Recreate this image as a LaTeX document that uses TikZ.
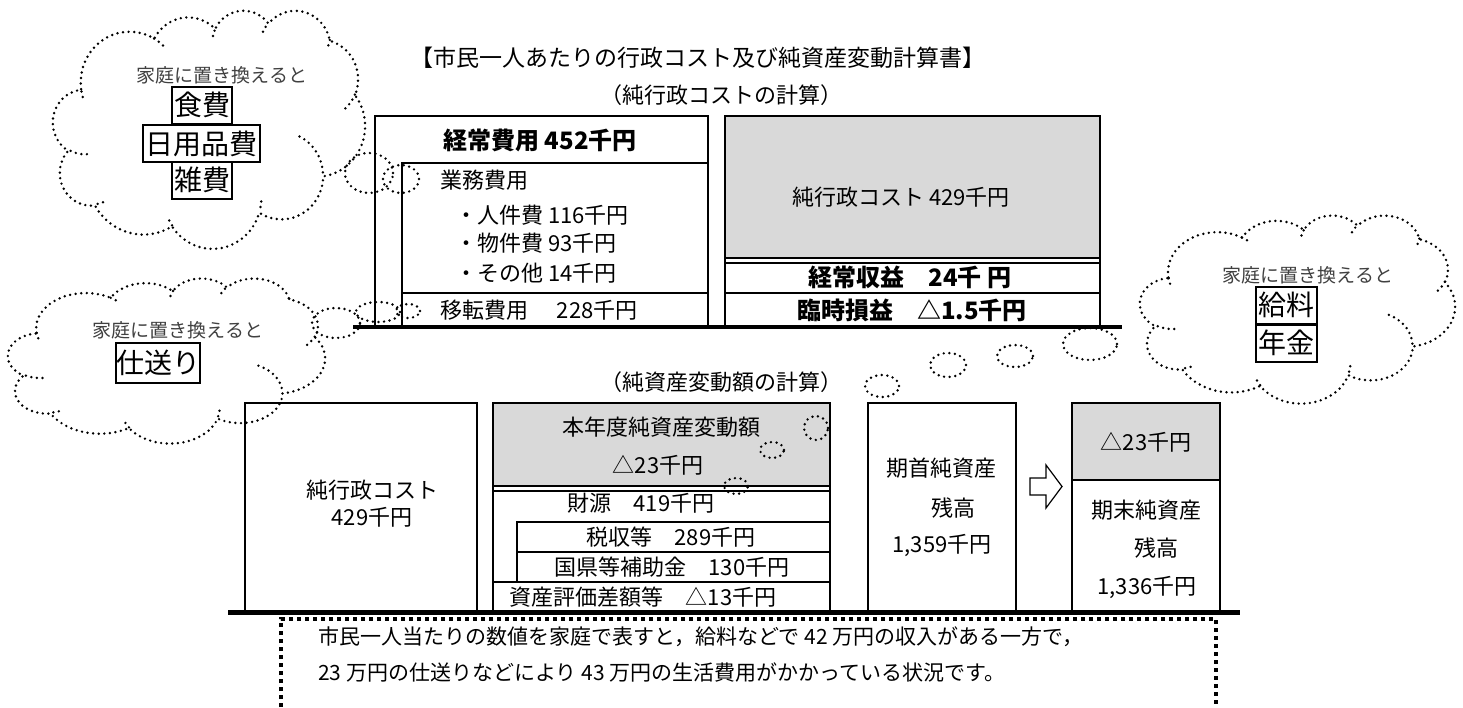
\documentclass[tikz,border=0pt]{standalone}
\usepackage{fontspec}
\setmainfont{Noto Sans CJK JP}
\definecolor{boxgrey}{RGB}{217,217,217}
\tikzset{
  warc/.style n args={4}{x radius=#1, y radius=#2,
    start angle={atan2((#1)*sin(#3),(#2)*cos(#3))},
    delta angle={mod(atan2((#1)*sin((#3)+(#4)),(#2)*cos((#3)+(#4)))-atan2((#1)*sin(#3),(#2)*cos(#3))+720,360)}},
  dotline/.style={draw, line width=2.7pt, line cap=round, dash pattern=on 0pt off 5.6pt}
}
% Word-style cloud outline: #1,#2 = top-left corner, #3,#4 = width, height (px)
\newcommand\wordcloud[5]{%
  \pgfmathsetmacro\cwx{#3/432}\pgfmathsetmacro\cwy{-#4/432}%
  \begin{scope}[shift={(#1,#2)}, x=\cwx pt, y=\cwy pt]
    \draw[dotline, fill=white] (39,143.7)
      arc[warc={67.53}{91.90}{-190.4875}{123.7805}]
      arc[warc={53.33}{72.67}{-144.1024}{89.9452}]
      arc[warc={43.65}{59.45}{-145.8079}{99.7230}]
      arc[warc={48.57}{65.95}{-130.9861}{117.2417}]
      arc[warc={53.33}{72.73}{-78.7089}{109.0269}]
      arc[warc={67.75}{92.20}{-46.2673}{130.2690}]
      arc[warc={57.85}{78.67}{0.6250}{114.0333}]
      arc[warc={67.52}{92.15}{22.4516}{115.1726}]
      arc[warc={77.20}{105.43}{66.2426}{75.7110}]
      arc[warc={43.60}{59.18}{-274.9421}{146.7356}]
      arc[warc={43.45}{59.45}{-246.8285}{152.5189}] -- cycle;
    \draw[dotline] (46.93,261.77) arc[warc={43.45}{59.45}{86.7420}{26.4295}];
    \draw[dotline] (69.28,348.99) arc[warc={43.60}{59.18}{73.6105}{11.4475}];
    \draw[dotline] (164.78,390.90) arc[warc={67.52}{92.15}{137.6242}{14.0811}];
    \draw[dotline] (288.27,347.51) arc[warc={67.52}{92.15}{6.4533}{15.9984}];
    \draw[dotline] (341.29,229.54) arc[warc={57.85}{78.67}{-70.2924}{70.9174}];
    \draw[dotline] (417.98,153.54) arc[warc={53.33}{72.73}{30.3180}{27.7515}];
    \draw[dotline] (383.24,54.26) arc[warc={48.57}{65.95}{13.7443}{14.8589}];
    \draw[dotline] (290.78,39.52) arc[warc={48.57}{65.95}{-149.1815}{18.1954}];
    \draw[dotline] (221.41,47.20) arc[warc={43.65}{59.45}{-163.4943}{17.6864}];
    \draw[dotline] (140.00,51.92) arc[warc={67.53}{91.90}{-66.7070}{12.3194}];
    \draw[dotline] (41.27,157.89) arc[warc={67.53}{91.90}{157.6544}{11.8582}];
    \coordinate (#5) at (216,216);
  \end{scope}}
\begin{document}
\begin{tikzpicture}[x=1pt,y=-1pt,
  box/.style={line width=2.8pt},
  thinline/.style={line width=1.2pt},
  t/.style={inner sep=0pt, font=\fontsize{22}{26}\selectfont},
  tb/.style={inner sep=0pt, font=\fontsize{24}{28}\selectfont\bfseries},
  cl/.style={inner sep=0pt, font=\fontsize{19}{22}\selectfont, text=black!75},
  kw/.style={draw, line width=2pt, inner sep=0pt, minimum height=37pt, font=\fontsize{28}{32}\selectfont},
  note/.style={inner sep=0pt, font=\fontsize{21}{25}\selectfont}]
\useasboundingbox (0,0) rectangle (1463,707);
\fill[white] (0,0) rectangle (1463,707);

% ---------- clouds ----------
\wordcloud{53}{10}{312}{238}{cloudA}
\wordcloud{1140}{215}{315}{188}{cloudB}
\wordcloud{8}{278}{317}{165}{cloudC}

% bubbles
\draw[dotline] (369,173) ellipse [x radius=24pt, y radius=20pt];
\draw[dotline] (401,179) ellipse [x radius=18pt, y radius=14pt];
\draw[dotline] (336,323) ellipse [x radius=24pt, y radius=15pt];
\draw[dotline] (378,312) ellipse [x radius=22pt, y radius=10pt];
\draw[dotline] (408,311) ellipse [x radius=12pt, y radius=7pt];
\draw[dotline] (882,386) ellipse [x radius=17pt, y radius=11pt];
\draw[dotline] (948,365) ellipse [x radius=18pt, y radius=12pt];
\draw[dotline] (1015,356) ellipse [x radius=18pt, y radius=11pt];
\draw[dotline] (1090,344) ellipse [x radius=27pt, y radius=16pt];

% cloud texts
\node[cl] (ctA) at (222,75) {家庭に置き換えると};
\node[kw, minimum width=60pt] (kwA1) at (202,105) {食費};
\node[kw, minimum width=117pt] (kwA2) at (201,143.5) {日用品費};
\node[kw, minimum width=60pt] (kwA3) at (202,180) {雑費};
\node[cl] (ctB) at (1308,275) {家庭に置き換えると};
\node[kw, minimum width=61pt] (kwB1) at (1286,305) {給料};
\node[kw, minimum width=61pt] (kwB2) at (1286,343) {年金};
\node[cl] (ctC) at (178,330) {家庭に置き換えると};
\node[kw, minimum width=83pt, minimum height=40pt] (kwC1) at (158,363) {仕送り};

% ---------- titles ----------
\node[t, anchor=west, font=\fontsize{23}{27}\selectfont] (title) at (410,58) {【市民一人あたりの行政コスト及び純資産変動計算書】};
\node[t, anchor=west] (sub1) at (600,95) {（純行政コストの計算）};

% ---------- top boxes ----------
\fill[boxgrey] (725,116) rectangle (1100,258);
\draw[box] (375,327) -- (375,116) -- (708,116) -- (708,327);
\draw[box] (402,327) -- (402,163) -- (708,163);
\draw[box] (402,293) -- (708,293);
\draw[box] (725,327) -- (725,116) -- (1100,116) -- (1100,327);
\draw[box] (725,258) -- (1100,258);
\draw[thinline] (725,263) -- (1100,263);
\draw[box] (725,293) -- (1100,293);
\draw[line width=4pt] (353,327) -- (1122,327);

\node[tb] (keijo) at (540,140) {経常費用 452千円};
\node[t, anchor=west] (gyomu) at (440,180) {業務費用};
\node[t, anchor=west] (jinken) at (455,215) {・人件費 116千円};
\node[t, anchor=west] (bukken) at (455,243) {・物件費 93千円};
\node[t, anchor=west] (sonota) at (455,273) {・その他 14千円};
\node[t, anchor=west] (iten) at (440,310) {移転費用\hspace{1.3em}228千円};
\node[t] (jungyo) at (901,197) {純行政コスト 429千円};
\node[tb] (shueki) at (910,277) {経常収益　24千 円};
\node[tb] (rinji) at (912,310) {臨時損益　△1.5千円};

% ---------- bottom boxes ----------
\node[t, anchor=west] (sub2) at (600,382) {（純資産変動額の計算）};
\fill[boxgrey] (493,403) rectangle (830,486);
\fill[boxgrey] (1072,403) rectangle (1220,480);
\draw[box] (245,612) -- (245,403) -- (477,403) -- (477,612);
\draw[box] (493,612) -- (493,403) -- (830,403) -- (830,612);
\draw[box] (493,486) -- (830,486);
\draw[thinline] (493,491) -- (830,491);
\draw[box] (517,582) -- (517,522) -- (830,522);
\draw[box] (517,552) -- (830,552);
\draw[box] (493,582) -- (830,582);
\draw[box] (868,612) -- (868,403) -- (1016,403) -- (1016,612);
\draw[box] (1072,612) -- (1072,403) -- (1220,403) -- (1220,612);
\draw[box] (1072,480) -- (1220,480);
\draw[line width=5pt] (228,612) -- (1240,612);
\draw[line width=1.2pt, fill=white] (1030,478) -- (1046,478) -- (1046,465) -- (1062,486.5) -- (1046,508) -- (1046,495) -- (1030,495) -- cycle;

\draw[dotline] (816,428) ellipse [x radius=12pt, y radius=12pt];
\draw[dotline] (772,450) ellipse [x radius=12pt, y radius=8pt];
\draw[dotline] (736,486) ellipse [x radius=12pt, y radius=8pt];

\node[t] (jg1) at (372,490) {純行政コスト};
\node[t] (jg2) at (372,517) {429千円};
\node[t] (hn1) at (661,427) {本年度純資産変動額};
\node[t] (hn2) at (658,465) {△23千円};
\node[t] (zaigen) at (641,503) {財源　419千円};
\node[t] (zeishu) at (671,537) {税収等　289千円};
\node[t] (kokken) at (672,567) {国県等補助金　130千円};
\node[t] (shisan) at (643,597) {資産評価差額等　△13千円};
\node[t] (ks1) at (941,468) {期首純資産};
\node[t] (ks2) at (953,508) {残高};
\node[t] (ks3) at (942,545) {1,359千円};
\node[t] (mz) at (1146,442) {△23千円};
\node[t] (km1) at (1146,510) {期末純資産};
\node[t] (km2) at (1156,548) {残高};
\node[t] (km3) at (1147,587) {1,336千円};

% ---------- note ----------
\draw[line width=4pt, dash pattern=on 4pt off 4pt] (281,707) -- (281,619) -- (1216,619) -- (1216,707);
\node[note, anchor=west] (n1) at (318,637) {市民一人当たりの数値を家庭で表すと，給料などで 42 万円の収入がある一方で，};
\node[note, anchor=west] (n2) at (318,672) {23 万円の仕送りなどにより 43 万円の生活費用がかかっている状況です。};
\end{tikzpicture}
\end{document}
